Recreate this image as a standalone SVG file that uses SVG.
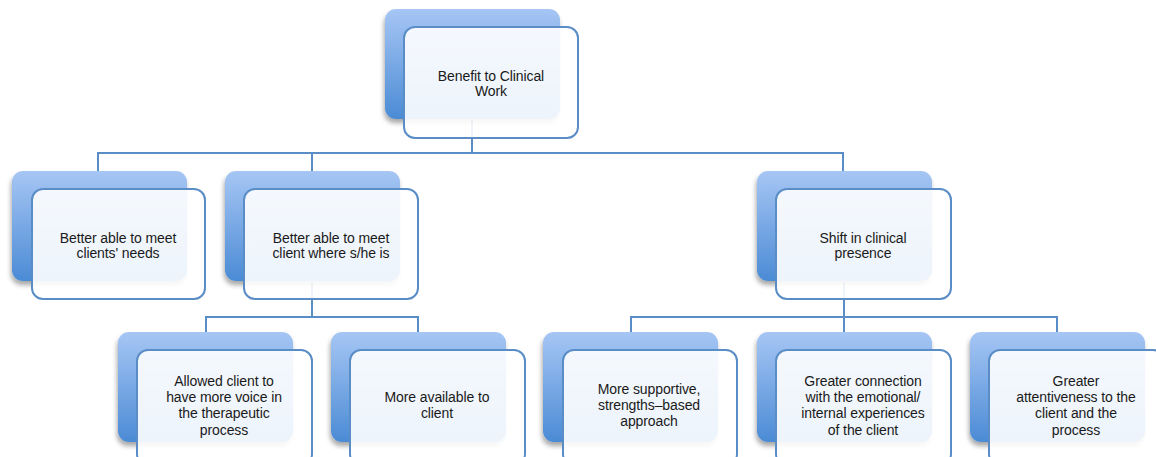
<svg xmlns="http://www.w3.org/2000/svg" width="1156" height="457" viewBox="0 0 1156 457">
<defs>
<linearGradient id="bg" x1="0" y1="0" x2="0" y2="1">
<stop offset="0" stop-color="#a6c6f4"/>
<stop offset="1" stop-color="#4b8bd5"/>
</linearGradient>
<filter id="sh" x="-10%" y="-10%" width="125%" height="130%">
<feGaussianBlur in="SourceAlpha" stdDeviation="2.5"/>
<feOffset dx="-1" dy="4" result="o"/>
<feComponentTransfer><feFuncA type="linear" slope="0.35"/></feComponentTransfer>
<feMerge><feMergeNode/><feMergeNode in="SourceGraphic"/></feMerge>
</filter>
</defs>
<style>
.back{fill:url(#bg);filter:url(#sh);}
.front{fill:#ffffff;fill-opacity:0.9;stroke:#5a8dc6;stroke-width:2;}
.con{fill:none;stroke:#5a8dc6;stroke-width:2;}
text{font-family:"Liberation Sans",Arial,sans-serif;font-size:14px;fill:#1a1a1a;text-anchor:middle;letter-spacing:-0.1px;}
</style>
<rect width="1156" height="457" fill="#ffffff"/>
<g id="connectors">
<path class="con" d="M472 120V153M98 171V153H843V171M312 153V171"/>
<path class="con" d="M312 282V317M206 332V317H418V332"/>
<path class="con" d="M844 282V317M631 332V317H1057V332M844 317V332"/>
</g>
<g id="n0">
<rect class="back" x="385" y="9" width="175" height="110" rx="11"/>
<rect class="front" x="404" y="27" width="174" height="111" rx="11"/>
<text x="491" y="81">Benefit to Clinical</text>
<text x="491" y="96">Work</text>
</g>
<g id="n1">
<rect class="back" x="12" y="171" width="175" height="110" rx="11"/>
<rect class="front" x="32" y="189" width="173" height="110" rx="11"/>
<text x="118" y="243">Better able to meet</text>
<text x="118" y="258">clients' needs</text>
</g>
<g id="n2">
<rect class="back" x="225" y="171" width="175" height="110" rx="11"/>
<rect class="front" x="244" y="189" width="174" height="110" rx="11"/>
<text x="331" y="243">Better able to meet</text>
<text x="331" y="258">client where s/he is</text>
</g>
<g id="n3">
<rect class="back" x="757" y="171" width="175" height="110" rx="11"/>
<rect class="front" x="776" y="189" width="175" height="110" rx="11"/>
<text x="863" y="243">Shift in clinical</text>
<text x="863" y="258">presence</text>
</g>
<g id="n4">
<rect class="back" x="118" y="332" width="175" height="110" rx="11"/>
<rect class="front" x="137" y="350" width="175" height="115" rx="11"/>
<text x="224" y="386">Allowed client to</text>
<text x="224" y="402">have more voice in</text>
<text x="224" y="418">the therapeutic</text>
<text x="224" y="435">process</text>
</g>
<g id="n5">
<rect class="back" x="331" y="332" width="175" height="110" rx="11"/>
<rect class="front" x="350" y="350" width="175" height="115" rx="11"/>
<text x="437" y="402">More available to</text>
<text x="437" y="418">client</text>
</g>
<g id="n6">
<rect class="back" x="543" y="332" width="175" height="110" rx="11"/>
<rect class="front" x="563" y="350" width="174" height="115" rx="11"/>
<text x="649" y="394">More supportive,</text>
<text x="649" y="410">strengths–based</text>
<text x="649" y="426">approach</text>
</g>
<g id="n7">
<rect class="back" x="757" y="332" width="175" height="110" rx="11"/>
<rect class="front" x="776" y="350" width="175" height="115" rx="11"/>
<text x="863" y="386">Greater connection</text>
<text x="863" y="402">with the emotional/</text>
<text x="863" y="418">internal experiences</text>
<text x="863" y="435">of the client</text>
</g>
<g id="n8">
<rect class="back" x="970" y="332" width="175" height="110" rx="11"/>
<rect class="front" x="989" y="350" width="175" height="115" rx="11"/>
<text x="1076" y="386">Greater</text>
<text x="1076" y="402">attentiveness to the</text>
<text x="1076" y="418">client and the</text>
<text x="1076" y="435">process</text>
</g>
</svg>
